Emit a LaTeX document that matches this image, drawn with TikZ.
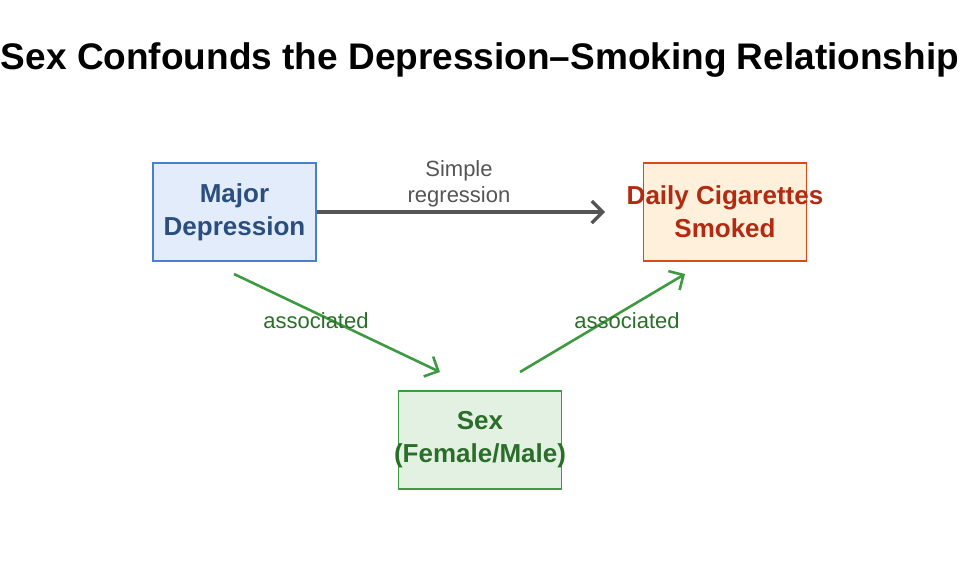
\documentclass[tikz,border=0pt]{standalone}
\usepackage{fontspec}
\setmainfont{Liberation Sans}
\usetikzlibrary{arrows.meta}
\definecolor{bluefill}{HTML}{E3ECFB}
\definecolor{blueline}{HTML}{4A7FD0}
\definecolor{bluetext}{HTML}{2A4E7E}
\definecolor{orangefill}{HTML}{FFF0DB}
\definecolor{orangeline}{HTML}{D84A1A}
\definecolor{orangetext}{HTML}{B22A10}
\definecolor{greenfill}{HTML}{E3F1E3}
\definecolor{greenline}{HTML}{3E9A40}
\definecolor{greentext}{HTML}{2A6E2A}
\definecolor{greyline}{HTML}{555555}
\tikzset{
  box/.style = {draw, line width=1.8pt, minimum width=163pt, minimum height=98pt, inner sep=0pt},
  boxtext/.style = {align=center, font=\fontsize{26}{33}\selectfont\bfseries},
  arrow/.style = {line width=3.2pt, -{Straight Barb[length=11pt,width=22pt]}},
  lbl/.style = {font=\fontsize{22}{26}\selectfont, align=center}
}
\begin{document}
\begin{tikzpicture}[x=1pt,y=-1pt]
\useasboundingbox (0,0) rectangle (960,576);

% Title
\node [font=\fontsize{37}{44}\selectfont\bfseries] (title) at (480,60) {Sex Confounds the Depression–Smoking Relationship};

% Boxes
\node [box, fill=bluefill, draw=blueline] (dep) at (234.5,212) {};
\node [box, fill=orangefill, draw=orangeline] (cig) at (725,212) {};
\node [box, fill=greenfill, draw=greenline] (sex) at (480,440) {};
\node [boxtext, text=bluetext] (dep-text) at (dep) {Major\\Depression};
\node [boxtext, text=orangetext] (cig-text) at (cig) {Daily Cigarettes\\Smoked};
\node [boxtext, text=greentext] (sex-text) at (sex) {Sex\\(Female/Male)};

% Arrow ends
\coordinate (dep-out) at (234,274);
\coordinate (sex-in) at (440,372);
\coordinate (sex-out) at (520,372);
\coordinate (cig-in) at (685,274);
\coordinate (cig-left) at (605,212);

% Simple regression
\draw [arrow, greyline] (dep.east) -- (cig-left);
\node [lbl, text=greyline] (reg) at (459,184) {Simple\\regression};

% Confounding paths
\draw [arrow, greenline, line width=2.6pt] (dep-out) -- (sex-in);
\draw [arrow, greenline, line width=2.6pt] (sex-out) -- (cig-in);
\node [lbl, text=greentext] (assocA) at (316,321) {associated};
\node [lbl, text=greentext] (assocB) at (627,321) {associated};

\end{tikzpicture}
\end{document}
